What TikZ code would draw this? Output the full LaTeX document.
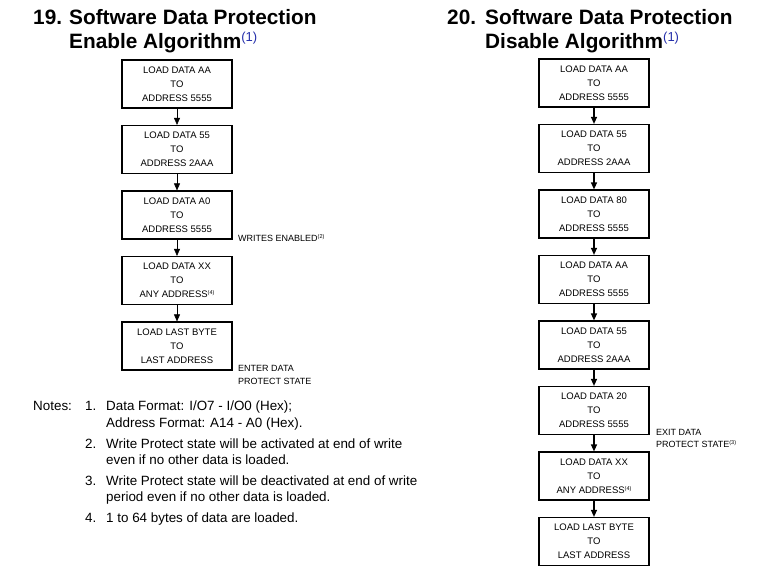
\documentclass[tikz,border=0pt]{standalone}
\usepackage{fontspec}
\setmainfont{Liberation Sans}
\usetikzlibrary{arrows.meta}
\definecolor{supblue}{RGB}{35,45,170}
\begin{document}
\begin{tikzpicture}[x=1pt,y=-1pt,
  stepbox/.style={draw,line width=1.2pt,minimum width=110pt,minimum height=48pt,inner sep=0pt,align=center,font=\fontsize{9.5}{14}\selectfont},
  flow/.style={-{Triangle[length=7pt,width=6pt]},line width=1.2pt},
  thinflow/.style={-{Triangle[length=7pt,width=6pt]},line width=0.6pt},
  ttl/.style={anchor=base west,inner sep=0pt,font=\fontsize{20.8}{24}\bfseries\selectfont},
  side/.style={anchor=base west,inner sep=0pt,font=\fontsize{9}{13}\selectfont},
  note/.style={anchor=base west,inner sep=0pt,font=\fontsize{13.4}{16}\selectfont}]
\newcommand\tsup[1]{\raisebox{7pt}{\fontsize{13}{13}\mdseries\selectfont\color{supblue}#1}}
\newcommand\ssup[1]{\raisebox{3pt}{\fontsize{5.5}{6}\selectfont#1}}
\useasboundingbox (0,0) rectangle (761,574);
% titles
\node[ttl] (n19) at (33,24) {19.};
\node[ttl] (t19a) at (69,24) {Software Data Protection};
\node[ttl] (t19b) at (69,48) {Enable Algorithm\tsup{(1)}};
\node[ttl] (n20) at (447,24) {20.};
\node[ttl] (t20a) at (485,24) {Software Data Protection};
\node[ttl] (t20b) at (485,48) {Disable Algorithm\tsup{(1)}};
% left flow
\node[stepbox] (a1) at (177,84) {LOAD DATA AA\\TO\\ADDRESS 5555};
\node[stepbox] (a2) at (177,149.5) {LOAD DATA 55\\TO\\ADDRESS 2AAA};
\node[stepbox] (a3) at (177,215) {LOAD DATA A0\\TO\\ADDRESS 5555};
\node[stepbox] (a4) at (177,280.5) {LOAD DATA XX\\TO\\ANY ADDRESS\ssup{(4)}};
\node[stepbox] (a5) at (177,346) {LOAD LAST BYTE\\TO\\LAST ADDRESS};
\foreach \i/\j in {a1/a2,a2/a3,a3/a4,a4/a5} \draw[thinflow] (\i) -- (\j);
\node[side] (we) at (238,241) {WRITES ENABLED\ssup{(2)}};
\node[side] (ed1) at (238,371) {ENTER DATA};
\node[side] (ed2) at (238,384) {PROTECT STATE};
% right flow
\node[stepbox] (b1) at (594,83) {LOAD DATA AA\\TO\\ADDRESS 5555};
\node[stepbox] (b2) at (594,148.5) {LOAD DATA 55\\TO\\ADDRESS 2AAA};
\node[stepbox] (b3) at (594,214) {LOAD DATA 80\\TO\\ADDRESS 5555};
\node[stepbox] (b4) at (594,279.5) {LOAD DATA AA\\TO\\ADDRESS 5555};
\node[stepbox] (b5) at (594,345) {LOAD DATA 55\\TO\\ADDRESS 2AAA};
\node[stepbox] (b6) at (594,410.5) {LOAD DATA 20\\TO\\ADDRESS 5555};
\node[stepbox] (b7) at (594,476) {LOAD DATA XX\\TO\\ANY ADDRESS\ssup{(4)}};
\node[stepbox] (b8) at (594,541.5) {LOAD LAST BYTE\\TO\\LAST ADDRESS};
\foreach \i/\j in {b1/b2,b2/b3,b3/b4,b4/b5,b5/b6,b6/b7,b7/b8} \draw[flow] (\i) -- (\j);
\node[side] (xd1) at (656,435) {EXIT DATA};
\node[side] (xd2) at (656,447) {PROTECT STATE\ssup{(3)}};
% notes
\node[note] (nt) at (33,410) {Notes:};
\node[note] (k1) at (85,410) {1.};
\node[note] (l1a) at (106,410) {Data Format: I/O7 - I/O0 (Hex);};
\node[note] (l1b) at (106,427) {Address Format: A14 - A0 (Hex).};
\node[note] (k2) at (85,448) {2.};
\node[note] (l2a) at (106,448) {Write Protect state will be activated at end of write};
\node[note] (l2b) at (106,464) {even if no other data is loaded.};
\node[note] (k3) at (85,485) {3.};
\node[note] (l3a) at (106,485) {Write Protect state will be deactivated at end of write};
\node[note] (l3b) at (106,501) {period even if no other data is loaded.};
\node[note] (k4) at (85,522) {4.};
\node[note] (l4) at (106,522) {1 to 64 bytes of data are loaded.};
\end{tikzpicture}
\end{document}
